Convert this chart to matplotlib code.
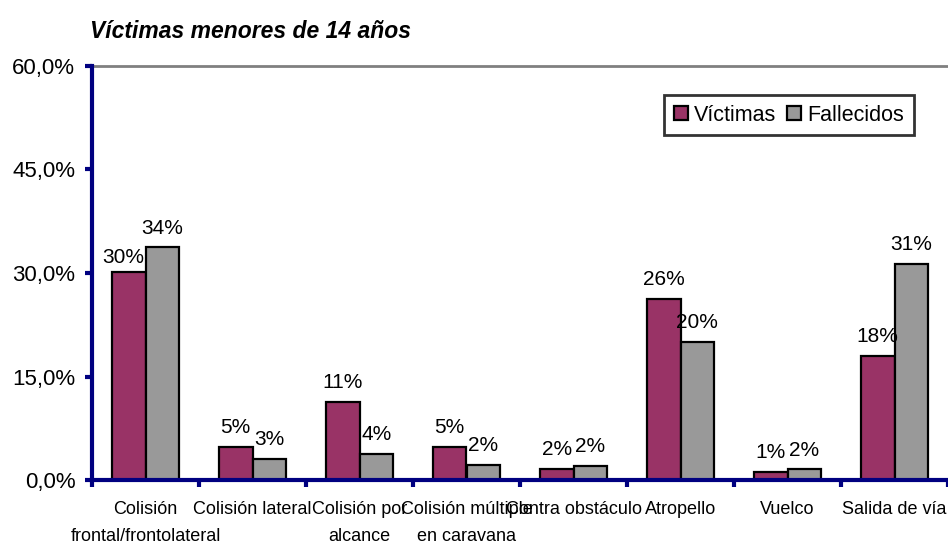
import numpy as np
import matplotlib.pyplot as plt
from matplotlib.ticker import FuncFormatter

# datos
categorias = ["Colisión\nfrontal/frontolateral", "Colisión lateral", "Colisión por\nalcance",
              "Colisión múltiple\nen caravana", "Contra obstáculo", "Atropello", "Vuelco",
              "Salida de vía"]
victimas = [30.2, 4.8, 11.3, 4.8, 1.6, 26.2, 1.2, 18.0]
fallecidos = [33.7, 3.1, 3.8, 2.2, 2.0, 20.0, 1.55, 31.3]
etiq_vict = ["30%", "5%", "11%", "5%", "2%", "26%", "1%", "18%"]
etiq_fall = ["34%", "3%", "4%", "2%", "2%", "20%", "2%", "31%"]
yticks = [0, 15, 30, 45, 60]

plt.rcParams['font.family'] = ['Liberation Sans', 'DejaVu Sans']
navy = '#000080'

fig = plt.figure(figsize=(9.48, 5.45), dpi=100)
ax = fig.add_axes([92 / 948, 65 / 545, 856 / 948, 414 / 545])

x = np.arange(len(categorias))
w = 0.315
ax.bar(x - w / 2, victimas, w, color='#993366', edgecolor='black', linewidth=1.6,
       label='Víctimas', zorder=3)
ax.bar(x + w / 2, fallecidos, w, color='#999999', edgecolor='black', linewidth=1.6,
       label='Fallecidos', zorder=3)

for i in range(len(x)):
    # la primera etiqueta va algo más baja y a la izquierda, como en el original
    off1 = (-4, 3) if i == 0 else (0, 7)
    ax.annotate(etiq_vict[i], (x[i] - w / 2, victimas[i]), xytext=off1,
                textcoords='offset points', ha='center', va='bottom', fontsize=15)
    ax.annotate(etiq_fall[i], (x[i] + w / 2, fallecidos[i]), xytext=(0, 7),
                textcoords='offset points', ha='center', va='bottom', fontsize=15)

ax.set_xlim(-0.5, len(x) - 0.5)
ax.set_ylim(0, 60)
ax.set_yticks(yticks)
ax.yaxis.set_major_formatter(FuncFormatter(lambda v, p: f"{v:.1f}%".replace('.', ',')))
ax.set_xticks(x)
ax.set_xticklabels(categorias, fontsize=13, linespacing=1.8)
ax.set_xticks(np.arange(len(x) + 1) - 0.5, minor=True)
ax.tick_params(axis='x', which='major', length=0, pad=15)
ax.tick_params(axis='x', which='minor', length=5, width=3, color=navy, direction='out')
ax.tick_params(axis='y', length=5, width=3, color=navy, direction='out', labelsize=16, pad=7)

ax.axhline(60, color='#808080', linewidth=2, zorder=1, clip_on=False)
for s in ['top', 'right']:
    ax.spines[s].set_visible(False)
for s in ['left', 'bottom']:
    ax.spines[s].set_color(navy)
    ax.spines[s].set_linewidth(3)
    ax.spines[s].set_zorder(4)

leg = ax.legend(loc='upper right', bbox_to_anchor=(822 / 856, 1 - 29 / 414), ncol=2,
                fontsize=15.5, frameon=True, fancybox=False, edgecolor='black',
                handlelength=0.65, handleheight=0.65, handletextpad=0.3, columnspacing=0.5,
                borderpad=0.45, borderaxespad=0)
leg.get_frame().set_linewidth(2)

fig.text(90 / 948, 1 - 31 / 545, "Víctimas menores de 14 años", fontsize=16.5,
         fontweight='bold', fontstyle='italic', va='center', ha='left')

fig.savefig('out.png', dpi=100)
